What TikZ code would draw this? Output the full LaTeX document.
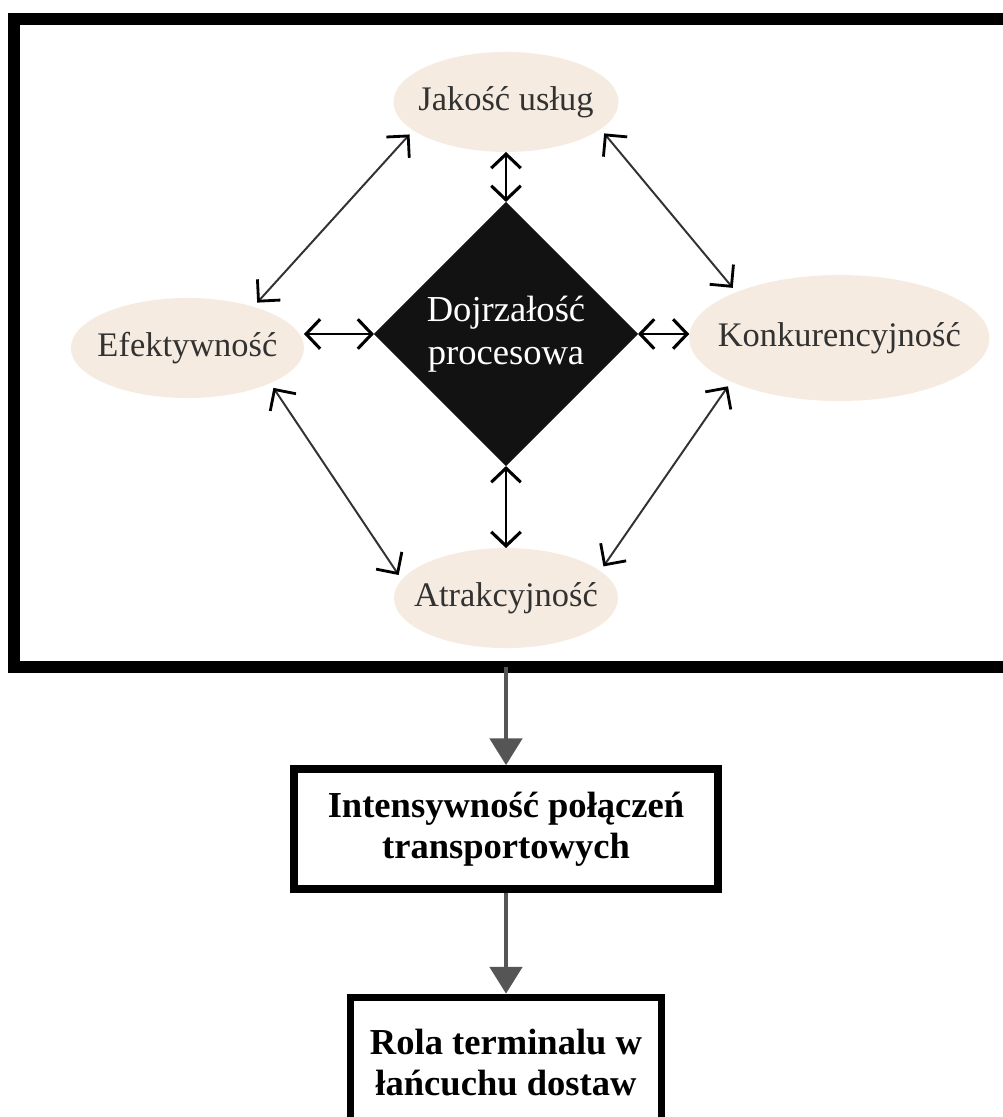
\documentclass[tikz,border=0pt]{standalone}
\usepackage{fontspec}
\setmainfont{Liberation Serif}
\usetikzlibrary{arrows.meta, shapes.geometric, positioning, calc}

\definecolor{beige}{RGB}{245,235,224}
\definecolor{ink}{RGB}{50,50,50}
\definecolor{flowgray}{RGB}{85,85,85}

\begin{document}
\begin{tikzpicture}[
    x=0.025cm, y=-0.025cm,
    factor/.style={
        ellipse, fill=beige, inner xsep=-1.5cm, inner ysep=0pt, outer sep=0pt,
        text=ink, font=\fontsize{24.5}{28}\selectfont
    },
    core/.style={
        diamond, fill=black!93, inner sep=0pt, outer sep=0pt,
        minimum width=6.6cm, minimum height=6.6cm, align=center,
        text=white, font=\fontsize{26}{31}\selectfont
    },
    result/.style={
        rectangle, draw, line width=5.3pt, fill=white, align=center,
        inner sep=0pt, font=\bfseries\fontsize{26}{29}\selectfont
    },
    frame/.style={rectangle, draw, line width=8.5pt, inner sep=0pt, outer sep=0pt},
    tie/.style={
        {Straight Barb[length=10pt, width=21pt, line width=2.2pt]}-{Straight Barb[length=10pt, width=21pt, line width=2.2pt]},
        line width=2pt
    },
    link/.style={
        {Straight Barb[length=11pt, width=22pt, line width=2pt, color=black]}-{Straight Barb[length=11pt, width=22pt, line width=2pt, color=black]},
        draw=ink, line width=1.4pt, shorten <=4pt, shorten >=4pt
    },
    flow/.style={-{Triangle[length=19pt, width=23pt]}, draw=flowgray, fill=flowgray, line width=2.5pt}
]
\useasboundingbox (0,0) rectangle (1003,1117);
\clip (0,0) rectangle (1003,1117);

\node[frame, anchor=north west, minimum width=25.65cm, minimum height=16.2cm] (frame) at (14,19) {};

\node[core] (core) at (506,334) {Dojrzałość\\procesowa};
\node[factor, minimum width=5.625cm, minimum height=2.5cm, above=1.25cm of core] (jak) {Jakość usług};
\node[factor, minimum width=5.6cm, minimum height=2.5cm, below=2.05cm of core] (atr) {Atrakcyjność};
\node[factor, minimum width=5.825cm, minimum height=2.5cm, left=1.75cm of core, yshift=-0.35cm] (efe) {Efektywność};
\node[factor, minimum width=7.5cm, minimum height=3.15cm, right=1.28cm of core, yshift=-0.1cm] (kon) {Konkurencyjność};

\node[result, minimum width=10.6cm, minimum height=3cm, below=2.925cm of atr] (inten) {Intensywność połączeń\\transportowych};
\node[result, minimum width=7.76cm, minimum height=3.25cm, below=2.525cm of inten] (rola) {Rola terminalu w\\łańcuchu dostaw};

% links round the core
\draw[tie] (core.north) -- (jak.south);
\draw[tie] (core.south) -- (atr.north);
\draw[tie] (core.west) -- (core.west -| efe.east);
\draw[tie] (core.east) -- (core.east -| kon.west);

\draw[link] (efe.32) -- (jak.197);
\draw[link] (jak.344) -- (kon.156);
\draw[link] (efe.337) -- (atr.170);
\draw[link] (atr.16) -- (kon.202);

% outcome chain
\draw[flow] (inten.north |- frame.south) -- (inten.north);
\draw[flow] (inten.south) -- (rola.north);

\end{tikzpicture}
\end{document}
